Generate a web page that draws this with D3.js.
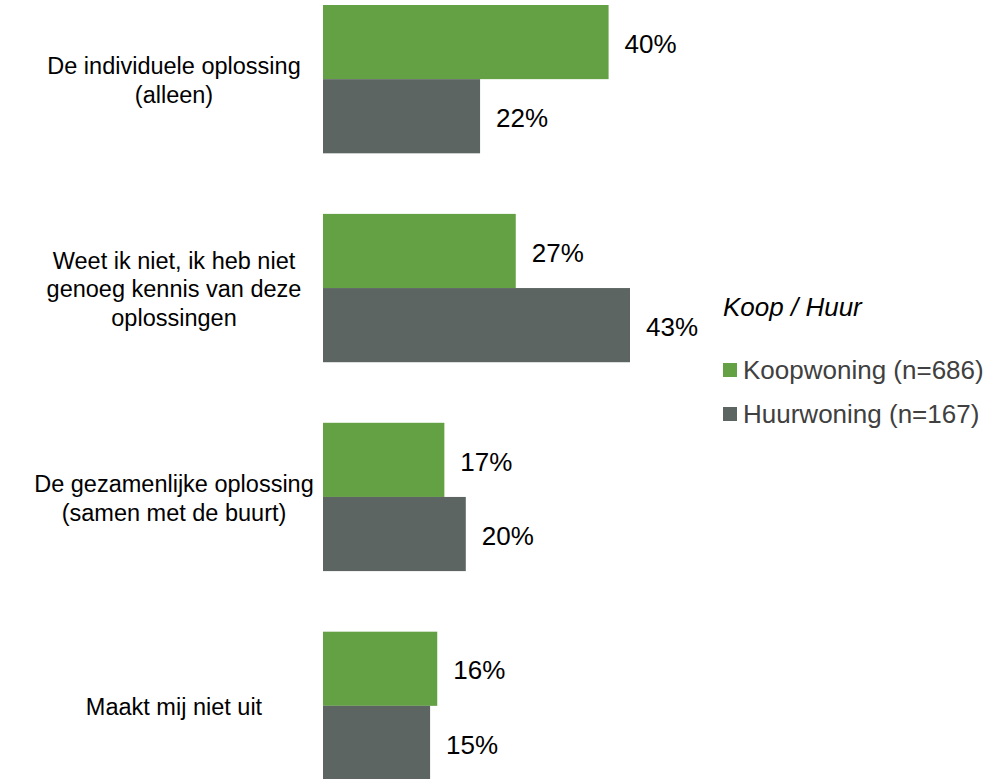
<!DOCTYPE html>
<html>
<head>
<meta charset="utf-8">
<script src="https://cdn.jsdelivr.net/npm/d3@7"></script>
<style>
  html, body { margin: 0; padding: 0; background: #fff; }
  svg { display: block; font-family: "Liberation Sans", Arial, sans-serif; }
</style>
</head>
<body>
<svg id="chart" width="997" height="779"></svg>
<script>
// Answer categories (each label split into its display lines)
const categories = [
  ["De individuele oplossing", "(alleen)"],
  ["Weet ik niet, ik heb niet", "genoeg kennis van deze", "oplossingen"],
  ["De gezamenlijke oplossing", "(samen met de buurt)"],
  ["Maakt mij niet uit"]
];
const seriesNames = ["Koopwoning (n=686)", "Huurwoning (n=167)"];
const koopValues = [40, 27, 17, 16];
const huurValues = [22, 43, 20, 15];
const legendTitle = "Koop / Huur";
const colors = ["#64a044", "#5d6563"];

const svg = d3.select("#chart");

const series = [koopValues, huurValues];
const rows = categories.map((c, i) => ({
  lines: c,
  values: series.map((s, k) => ({ key: k, value: s[i] }))
}));

// Category bands down the page, two bars per band
const y = d3.scaleBand()
  .domain(d3.range(categories.length))
  .range([5, 780])
  .paddingInner(0.29)
  .paddingOuter(0);

const ySub = d3.scaleBand()
  .domain([0, 1])
  .range([0, y.bandwidth()]);

const x0 = 323;
const x = d3.scaleLinear().domain([0, 43]).range([0, 307]);

const groups = svg.selectAll("g.row")
  .data(rows)
  .join("g")
  .attr("class", "row")
  .attr("transform", (d, i) => `translate(0,${y(i)})`);

groups.selectAll("rect")
  .data(d => d.values)
  .join("rect")
  .attr("x", x0)
  .attr("y", d => ySub(d.key))
  .attr("width", d => x(d.value))
  .attr("height", ySub.bandwidth())
  .attr("fill", d => colors[d.key]);

groups.selectAll("text.val")
  .data(d => d.values)
  .join("text")
  .attr("class", "val")
  .attr("x", d => x0 + x(d.value) + 16)
  .attr("y", d => ySub(d.key) + ySub.bandwidth() / 2)
  .attr("dy", "0.41em")
  .attr("font-size", 26)
  .attr("fill", "#000")
  .text(d => d.value + "%");

// Category labels, centred on each band
const lineH = 28.8;
groups.append("text")
  .attr("class", "cat")
  .attr("text-anchor", "middle")
  .attr("font-size", 23.5)
  .attr("fill", "#000")
  .each(function(d) {
    const t = d3.select(this);
    const n = d.lines.length;
    d.lines.forEach((ln, j) => {
      t.append("tspan")
        .attr("x", 174)
        .attr("y", y.bandwidth() / 2 + (j - (n - 1) / 2) * lineH)
        .attr("dy", "0.4em")
        .text(ln);
    });
  });

// Legend
const lg = svg.append("g").attr("transform", "translate(723,0)");
lg.append("text")
  .attr("x", 0).attr("y", 316)
  .attr("font-size", 26)
  .attr("font-style", "italic")
  .attr("fill", "#000")
  .text(legendTitle);

const items = lg.selectAll("g.item")
  .data(seriesNames)
  .join("g")
  .attr("class", "item")
  .attr("transform", (d, i) => `translate(0,${363 + i * 44})`);
items.append("rect")
  .attr("width", 14).attr("height", 14)
  .attr("fill", (d, i) => colors[i]);
items.append("text")
  .attr("x", 20).attr("y", 7)
  .attr("dy", "0.35em")
  .attr("font-size", 26)
  .attr("fill", "#404040")
  .text(d => d);
</script>
</body>
</html>
